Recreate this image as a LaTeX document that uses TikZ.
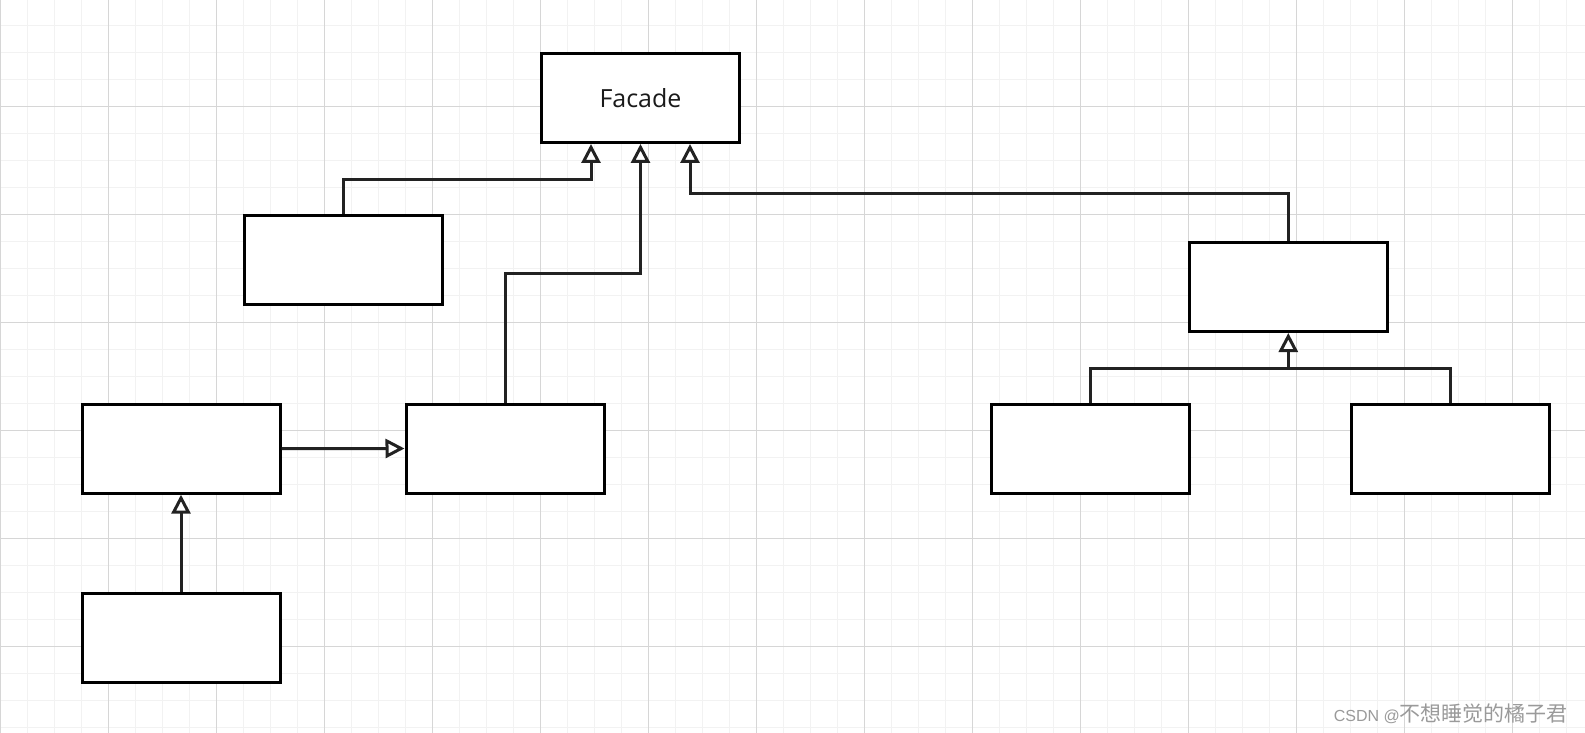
\documentclass[tikz,border=0pt]{standalone}
\usepackage{fontspec}
\setmainfont{Open Sans}
\newfontfamily\wmlatin{Liberation Sans}
\newfontfamily\wmcjk{Noto Sans CJK SC}
\usetikzlibrary{arrows.meta}
\definecolor{minorgrid}{HTML}{F2F2F2}
\definecolor{majorgrid}{HTML}{D6D6D6}
\definecolor{conncol}{HTML}{222222}
\definecolor{wm}{HTML}{9A9A9A}
\tikzset{
  umlbox/.style={draw=black, fill=white, line width=3pt, rectangle, inner sep=0pt,
    minimum width=198pt, minimum height=89pt},
  conline/.style={color=conncol, line width=3pt},
  inhline/.style={conline, -{Triangle[open, length=19pt, width=19pt, fill=white]}},
}
\begin{document}
\begin{tikzpicture}[x=1pt,y=-1pt]
\useasboundingbox (0,0) rectangle (1585,733);
\fill[white] (0,0) rectangle (1585,733);
% grid
\foreach \i in {0,...,59} {
  \draw[minorgrid, line width=1.4pt] ({0.5+27*\i},0) -- ({0.5+27*\i},733);
}
\foreach \j in {0,...,28} {
  \draw[minorgrid, line width=1.4pt] (0,{-1.5+27*\j}) -- (1585,{-1.5+27*\j});
}
\foreach \i in {0,...,14} {
  \draw[majorgrid, line width=1pt] ({0.5+108*\i},0) -- ({0.5+108*\i},733);
}
\foreach \j in {1,...,7} {
  \draw[majorgrid, line width=1pt] (0,{-1.5+108*\j}) -- (1585,{-1.5+108*\j});
}
% boxes
\node[umlbox] (facade) at (640.5,98) {\raisebox{-2pt}{\fontsize{25}{30}\selectfont\color[HTML]{1A1A1A}Facade}};
\node[umlbox] (a) at (343,260) {};
\node[umlbox] (b) at (181,448.7) {};
\node[umlbox] (c) at (505,448.5) {};
\node[umlbox] (d) at (181,637.5) {};
\node[umlbox] (e) at (1288.3,287) {};
\node[umlbox] (f) at (1090,448.5) {};
\node[umlbox] (g) at (1450.5,448.5) {};
% helper coordinates
\coordinate (fa) at ([xshift=-49.5pt]facade.south);
\coordinate (fc) at ([xshift=49.5pt]facade.south);
\coordinate (p1) at (591,179);
\coordinate (p2) at (640.5,273);
\coordinate (p3) at (690,193);
\coordinate (j) at (1288.3,368);
% connectors
\draw[inhline] (a.north) |- (p1) -- (fa);
\draw[inhline] (c.north) |- (p2) -- (facade.south);
\draw[inhline] (e.north) |- (p3) -- (fc);
\draw[inhline] (b.east) -- (c.west);
\draw[inhline] (d.north) -- (b.south);
\draw[conline] (g.north) |- (j);
\draw[inhline] (f.north) |- (j) -- (e.south);
% watermark
\node[anchor=base east, inner sep=0pt, text=wm] (wm) at (1568,721)
  {{\wmlatin\fontsize{16}{20}\selectfont CSDN @}{\wmcjk\fontsize{21}{26}\selectfont 不想睡觉的橘子君}};
\end{tikzpicture}
\end{document}
